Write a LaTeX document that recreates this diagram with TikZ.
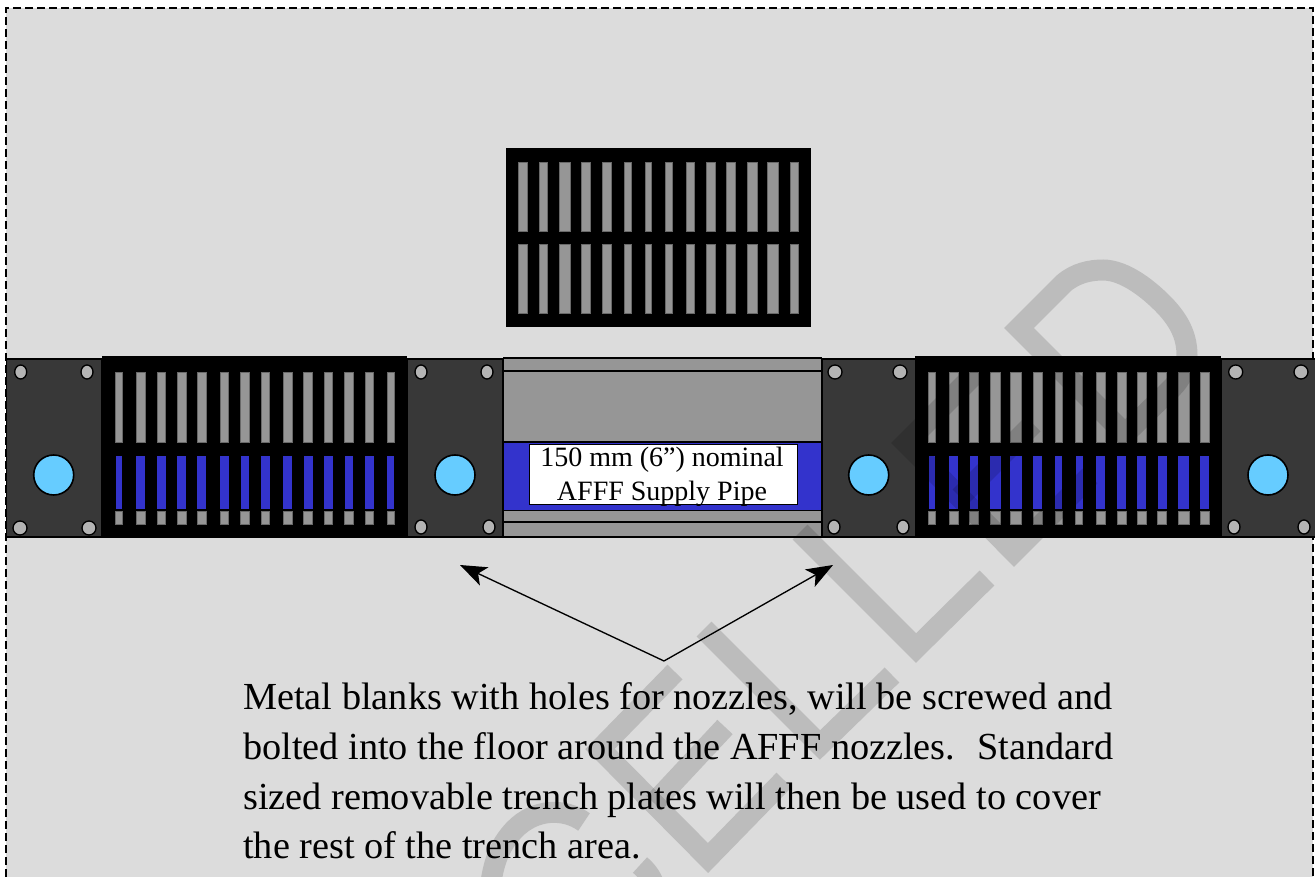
\documentclass[tikz,border=0pt]{standalone}
\usepackage{fontspec}
\setmainfont{Liberation Serif}
\usetikzlibrary{arrows.meta}

\definecolor{floorgray}{HTML}{DCDCDC}
\definecolor{platedark}{HTML}{383838}
\definecolor{slatgray}{HTML}{969696}
\definecolor{pipeblue}{HTML}{3333CC}
\definecolor{holeblue}{HTML}{66CCFF}
\definecolor{boltgray}{HTML}{B4B4B4}

\tikzset{
    blank/.style={draw=black, fill=platedark, line width=1pt},
    grate/.style={fill=black},
    slat/.style={draw=slatgray!70!black, fill=slatgray, line width=0.5pt},
    blueslat/.style={fill=pipeblue},
    bolt/.style={draw=black, fill=boltgray, line width=1pt},
    hole/.style={draw=black, fill=holeblue, line width=1.2pt},
    pipeline/.style={draw=black, line width=1pt},
    pointer/.style={draw=black, line width=1pt, -{Stealth[length=20pt, width=15pt, inset=5pt]}},
    stamp/.style={draw=black, draw opacity=0.14, line width=15.75pt, line join=miter},
    notetext/.style={font=\fontsize{28.7}{37.5}\selectfont, inner sep=0pt, anchor=base west}
}

\begin{document}
\begin{tikzpicture}[x=0.75pt, y=-0.75pt]
\useasboundingbox (0,0) rectangle (1315,877);

% floor and its dashed outline
\fill[floorgray] (6,8) rectangle (1313,877);
\draw[black, line width=1pt, dash pattern=on 6pt off 3pt] (6,877) -- (6,8) -- (1313,8) -- (1313,877);

% loose trench plate
\fill[grate] (506,148) rectangle (811,327);
\foreach \a/\b in {518.3/527, 539/547.7, 559/570, 581.7/590.3, 602.3/611, 624.3/631, 645/651.7, 665/672,
    686/694.3, 706/715, 726.7/735.3, 747.3/757.7, 767.3/778, 790/798.7} {
    \draw[slat] (\a,162) rectangle (\b,231);
    \draw[slat] (\a,244) rectangle (\b,313);
}

% supply pipe
\fill[slatgray] (503,357) rectangle (822,537);
\fill[pipeblue] (503,443) rectangle (822,510);
\draw[pipeline] (503,358) -- (822,358);
\draw[pipeline] (503,371) -- (822,371);
\draw[black, line width=1.5pt] (503,442.5) -- (822,442.5);
\draw[pipeline] (503,510.5) -- (822,510.5);
\draw[pipeline] (503,522) -- (822,522);
\draw[pipeline] (503,537) -- (822,537);

% grates over the trench
\fill[grate] (102,356) rectangle (407,538);
\foreach \a/\b in {115.7/122, 136.3/145, 157/165.7, 177.3/186, 197.3/206, 220/228.7, 240.7/249.3, 261/269.7,
    283.3/292, 303.7/312.7, 324/332.7, 344.7/353.3, 365/373.7, 387.3/394} {
    \draw[slat] (\a,372) rectangle (\b,442);
    \fill[blueslat] (\a,456) rectangle (\b,509);
    \draw[slat] (\a,511) rectangle (\b,524);
}
\fill[grate] (915,356) rectangle (1221,538);
\foreach \a/\b in {928.7/935.3, 949.3/958, 969.7/978.3, 990/1000.7, 1010.3/1021.7, 1033/1042, 1055.3/1062.3, 1075.7/1082.7,
    1096.3/1105.3, 1117/1126, 1137/1146, 1157.7/1166.7, 1178/1189, 1200.3/1209.3} {
    \draw[slat] (\a,372) rectangle (\b,442);
    \fill[blueslat] (\a,456) rectangle (\b,509);
    \draw[slat] (\a,511) rectangle (\b,524);
}

% metal blanks
\draw[blank] (6.5,359) rectangle (102,537);
\draw[blank] (407,359) rectangle (503,537);
\draw[blank] (822,359) rectangle (916,537);
\draw[blank] (1221,359) rectangle (1316,537);
\foreach \x/\y/\rx/\ry in {20.7/372/6/7, 87/372/6/7, 20/528/7/7, 89/528/7/7,
    421/372/6/7, 487/372/6/7, 421/527/6/7, 489/527/6/7,
    835/372/7/7, 900/372/7/7, 834/527/6/7, 903/527/6/7,
    1235.7/372/7/7, 1301/372/7/7, 1234/527/6/7, 1304/527/6/7} {
    \draw[bolt] (\x,\y) ellipse [x radius=\rx, y radius=\ry];
}
\foreach \x in {53.7, 455, 868.7, 1268} {
    \draw[hole] (\x,475) circle [radius=20];
}

% pipe label
\node[draw=black, fill=white, line width=1pt, minimum width=201pt, minimum height=45pt, inner sep=0pt] (pipebox) at (663.5,474.5) {};
\node[font=\fontsize{21}{24.75}\selectfont, inner sep=0pt, anchor=base] (pipetop) at (662,467) {150 mm (6”) nominal};
\node[font=\fontsize{21}{24.75}\selectfont, inner sep=0pt, anchor=base] (pipebottom) at (662,500) {AFFF Supply Pipe};

% note and its two arrows
\coordinate (apex) at (664,661);
\coordinate (lefttip) at (460,565);
\coordinate (righttip) at (833,565);
\draw[pointer] (apex) -- (lefttip);
\draw[pointer] (apex) -- (righttip);
\node[notetext] (notea) at (243,709) {Metal blanks with holes for nozzles, will be screwed and};
\node[notetext] (noteb) at (243,759) {bolted into the floor around the AFFF nozzles.~ Standard};
\node[notetext] (notec) at (243,809) {sized removable trench plates will then be used to cover};
\node[notetext] (noted) at (243,858) {the rest of the trench area.};

% stamp across the sheet
\draw[stamp] (584,822) .. controls (565,808) and (535,808) .. (514,830) .. controls (500,845) and (493,862) .. (490,890);
\draw[stamp] (640,865) .. controls (648,872) and (652,878) .. (656,890);
\draw[stamp] (675,672) -- (600,749) -- (708,858) -- (784,780);
\draw[stamp] (654,803) -- (725,727);
\draw[stamp] (704,629) -- (820,745) -- (892,675);
\draw[stamp] (800,532) -- (916,648) -- (987,578);
\draw[stamp] (985,364) -- (906,443) -- (1014,552) -- (1090,476);
\draw[stamp] (960,497) -- (1033,424);
\draw[stamp] (1125,434) -- (1019,328) -- (1064,283) .. controls (1076,273) and (1090,270) .. (1103,270) .. controls (1125,270) and (1150,290) .. (1166,307) .. controls (1178,320) and (1187,335) .. (1187,355) .. controls (1187,368) and (1180,380) .. (1172,388) -- (1125,434) -- cycle;
\end{tikzpicture}
\end{document}
